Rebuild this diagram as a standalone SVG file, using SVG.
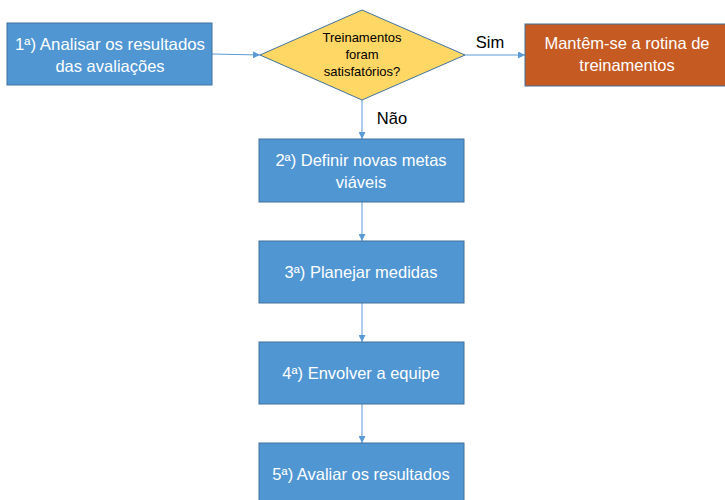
<svg xmlns="http://www.w3.org/2000/svg" width="725" height="500" viewBox="0 0 725 500">
  <style>
    .step { fill: #4F96D2; stroke: #41719C; stroke-width: 1; }
    .keep { fill: #C55A22; stroke: #41719C; stroke-width: 1; }
    .decision { fill: #FFD764; stroke: #41719C; stroke-width: 1; }
    .lbl { font-family: "Liberation Sans", Arial, sans-serif; font-size: 16.5px; fill: #FFFFFF; text-anchor: middle; }
    .q { font-family: "Liberation Sans", Arial, sans-serif; font-size: 13px; fill: #000000; text-anchor: middle; }
    .edge-lbl { font-family: "Liberation Sans", Arial, sans-serif; font-size: 16.5px; fill: #000000; text-anchor: middle; }
    .conn { stroke: #5B9BD5; stroke-width: 1; fill: none; marker-end: url(#arr); }
  </style>
  <defs>
    <marker id="arr" viewBox="0 0 10 10" refX="10" refY="5" markerWidth="7" markerHeight="7" markerUnits="userSpaceOnUse" orient="auto">
      <path d="M0,0 L10,5 L0,10 z" fill="#5B9BD5"/>
    </marker>
  </defs>
  <rect width="725" height="500" fill="#FFFFFF"/>

  <g id="connectors">
    <path class="conn" d="M212,54 L260,55"/>
    <path class="conn" d="M465,55 L525,55"/>
    <path class="conn" d="M362,100 L362,139"/>
    <path class="conn" d="M362,202 L362,241"/>
    <path class="conn" d="M362,303 L362,342"/>
    <path class="conn" d="M362,404 L362,443"/>
    <text class="edge-lbl" x="490" y="48">Sim</text>
    <text class="edge-lbl" x="392" y="124">Não</text>
  </g>

  <g id="analisar">
    <rect class="step" x="7" y="23" width="205" height="62"/>
    <text class="lbl" x="110" y="50" textLength="190" lengthAdjust="spacingAndGlyphs">1ª) Analisar os resultados</text>
    <text class="lbl" x="110" y="72">das avaliações</text>
  </g>

  <g id="decisao">
    <polygon class="decision" points="362,10 465,55 362,100 260,55"/>
    <text class="q" x="362" y="42">Treinamentos</text>
    <text class="q" x="362" y="59">foram</text>
    <text class="q" x="362" y="76">satisfatórios?</text>
  </g>

  <g id="manter">
    <rect class="keep" x="525" y="24" width="205" height="62"/>
    <text class="lbl" x="627" y="49">Mantêm-se a rotina de</text>
    <text class="lbl" x="627" y="71">treinamentos</text>
  </g>

  <g id="definir">
    <rect class="step" x="259" y="139" width="205" height="63"/>
    <text class="lbl" x="361" y="166">2ª) Definir novas metas</text>
    <text class="lbl" x="361" y="188">viáveis</text>
  </g>

  <g id="planejar">
    <rect class="step" x="259" y="241" width="205" height="62"/>
    <text class="lbl" x="361" y="278">3ª) Planejar medidas</text>
  </g>

  <g id="envolver">
    <rect class="step" x="259" y="342" width="205" height="62"/>
    <text class="lbl" x="361" y="379">4ª) Envolver a equipe</text>
  </g>

  <g id="avaliar">
    <rect class="step" x="259" y="443" width="205" height="62"/>
    <text class="lbl" x="361" y="480">5ª) Avaliar os resultados</text>
  </g>
</svg>
